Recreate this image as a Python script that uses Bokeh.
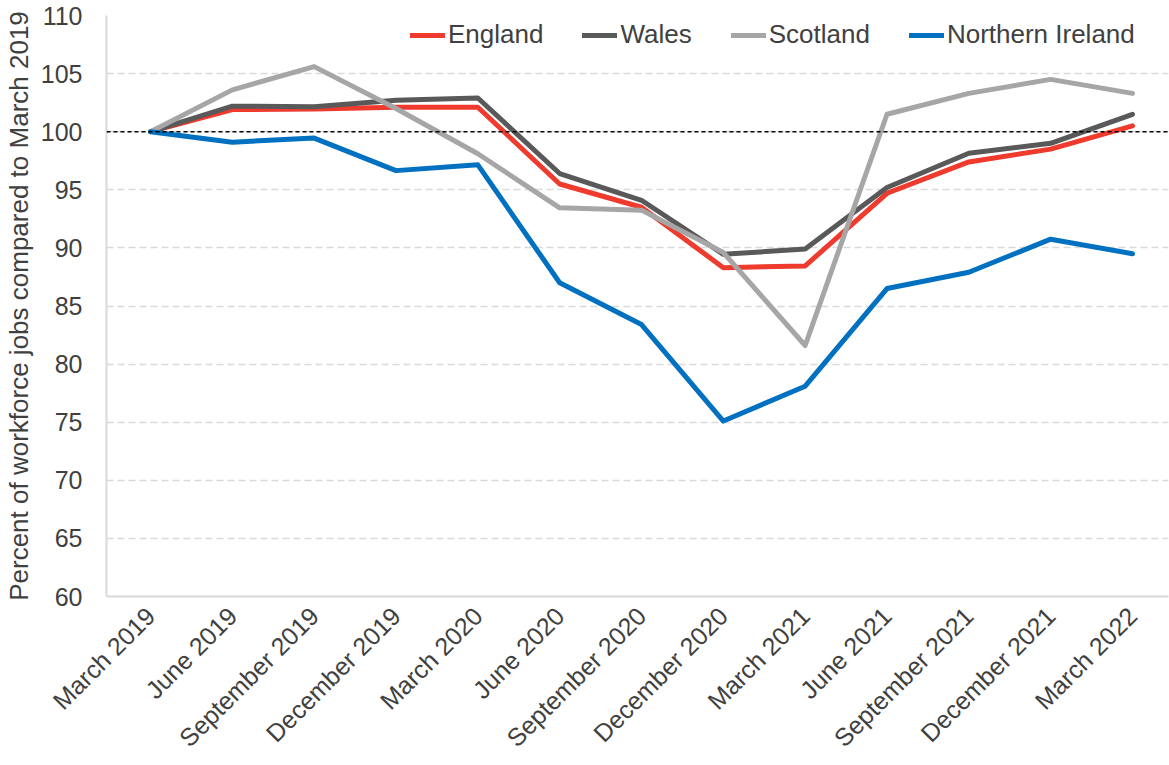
import math
from bokeh.plotting import figure
from bokeh.models import (Range1d, FixedTicker, Span, Legend, LegendItem)
from bokeh.embed import file_html
from bokeh.resources import INLINE

quarters = ["March 2019", "June 2019", "September 2019", "December 2019",
            "March 2020", "June 2020", "September 2020", "December 2020",
            "March 2021", "June 2021", "September 2021", "December 2021",
            "March 2022"]
england = [100, 101.9, 101.95, 102.1, 102.1, 95.5, 93.5, 88.3, 88.45, 94.7, 97.4, 98.5, 100.5]
wales = [100, 102.2, 102.15, 102.7, 102.9, 96.4, 94.1, 89.45, 89.9, 95.2, 98.15, 99.0, 101.5]
scotland = [100, 103.6, 105.6, 102.0, 98.1, 93.45, 93.25, 89.6, 81.6, 101.5, 103.3, 104.5, 103.3]
n_ireland = [100, 99.1, 99.45, 96.65, 97.15, 87.0, 83.4, 75.1, 78.1, 86.5, 87.9, 90.75, 89.5]
series_names = ["England", "Wales", "Scotland", "Northern Ireland"]
y_ticks = [60, 65, 70, 75, 80, 85, 90, 95, 100, 105, 110]

colors = ["#EE3B2E", "#595959", "#A6A6A6", "#0070C0"]
FONT = "Liberation Sans"
TXT = "#404040"

xs = list(range(len(quarters)))

p = figure(width=1169, height=765, output_backend="svg", toolbar_location=None,
           x_range=Range1d(-0.538, 12.44), y_range=Range1d(60, 110),
           min_border_left=106, min_border_right=1, min_border_top=15,
           min_border_bottom=169)
p.outline_line_color = None
p.background_fill_color = "white"

p.xgrid.grid_line_color = None
p.ygrid.grid_line_color = "#D9D9D9"
p.ygrid.grid_line_dash = "7 4"
p.ygrid.grid_line_width = 1.5

p.yaxis.ticker = FixedTicker(ticks=y_ticks)
p.xaxis.ticker = FixedTicker(ticks=xs)
p.xaxis.major_label_overrides = {i: q for i, q in enumerate(quarters)}
p.xaxis.major_label_orientation = math.pi / 4

for ax in (p.xaxis[0], p.yaxis[0]):
    ax.axis_line_color = "#D9D9D9"
    ax.axis_line_width = 2
    ax.major_tick_line_color = None
    ax.minor_tick_line_color = None
    ax.major_tick_in = 0
    ax.major_tick_out = 0
    ax.minor_tick_in = 0
    ax.minor_tick_out = 0
    ax.major_label_text_font = FONT
    ax.major_label_text_color = TXT

p.yaxis.major_label_text_font_size = "25px"
p.xaxis.major_label_text_font_size = "25px"
p.yaxis.major_label_standoff = 24
p.xaxis.major_label_standoff = 15
p.yaxis.axis_label = "Percent of workforce jobs compared to March 2019"
p.yaxis.axis_label_text_font = FONT
p.yaxis.axis_label_text_font_size = "26px"
p.yaxis.axis_label_text_font_style = "normal"
p.yaxis.axis_label_text_color = TXT
p.yaxis.axis_label_standoff = 4

p.add_layout(Span(location=100, dimension="width", line_color="black",
                  line_width=1.5, line_dash="4 3"))

renderers = []
for vals, c in zip([england, wales, scotland, n_ireland], colors):
    r = p.line(xs, vals, line_color=c, line_width=5, line_join="round",
               line_cap="round")
    renderers.append(r)

legend = Legend(items=[LegendItem(label=n, renderers=[r]) for n, r in zip(series_names, renderers)],
                orientation="horizontal", location=(304, 546),
                label_text_font=FONT, label_text_font_size="26px",
                label_text_color=TXT, glyph_width=35, label_standoff=3,
                spacing=39, padding=0, margin=0,
                border_line_color=None, background_fill_alpha=0)
p.add_layout(legend, "center")

open("out.html", "w").write(file_html(p, INLINE))
